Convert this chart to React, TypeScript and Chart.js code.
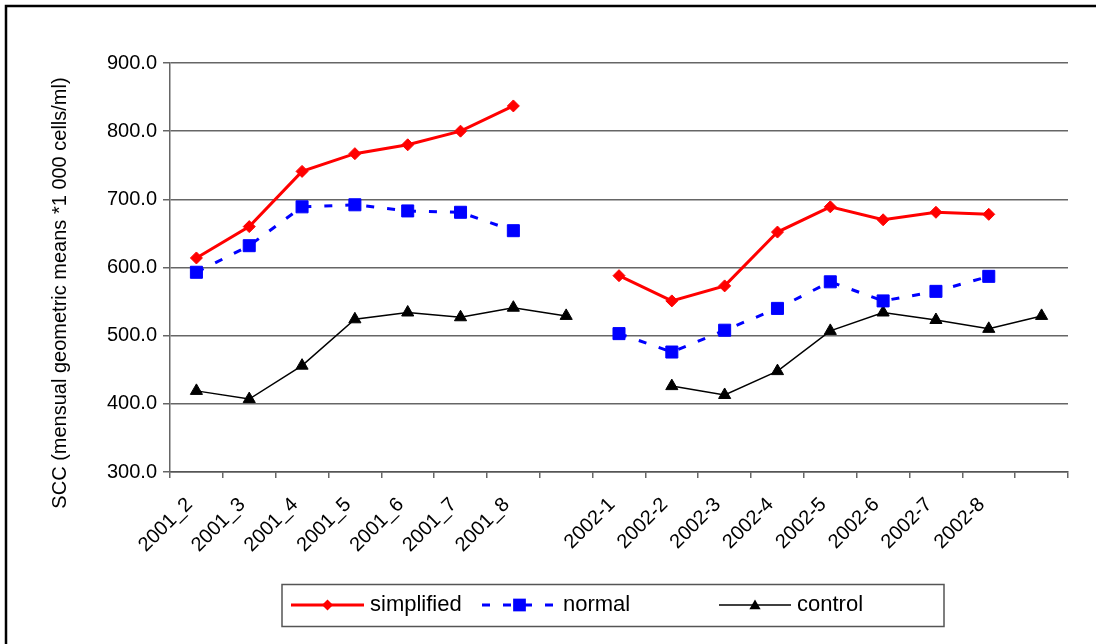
import React, { useEffect, useRef } from 'react';
import { Chart, registerables } from 'chart.js';

Chart.register(...registerables);

const categories = [
  '2001_2', '2001_3', '2001_4', '2001_5', '2001_6', '2001_7', '2001_8', '',
  '2002-1', '2002-2', '2002-3', '2002-4', '2002-5', '2002-6', '2002-7', '2002-8', '',
];
const simplified = [614, 660, 741, 767, 780, 800, 837, null, 588, 551, 573, 652, 689, 670, 681, 678, null];
const normal = [593, 632, 689, 692, 683, 681, 654, null, 503, 476, 508, 540, 579, 551, 565, 587, null];
const control = [419, 407, 456, 524, 534, 527, 541, 529, null, 426, 413, 448, 507, 534, 523, 510, 529];
const seriesNames = ['simplified', 'normal', 'control'];
const yMin = 300;
const yMax = 900;
const yStep = 100;
const yAxisTitle = 'SCC (mensual geometric means *1 000 cells/ml)';

const FONT = '"Liberation Sans", Arial, Helvetica, sans-serif';

function drawMarker(ctx: CanvasRenderingContext2D, style: string, x: number, y: number, r: number, color: string) {
  ctx.save();
  ctx.setLineDash([]);
  ctx.fillStyle = color;
  ctx.beginPath();
  if (style === 'rectRot') {
    ctx.moveTo(x - r, y);
    ctx.lineTo(x, y - r);
    ctx.lineTo(x + r, y);
    ctx.lineTo(x, y + r);
  } else if (style === 'rect') {
    const s = r * Math.SQRT1_2;
    ctx.rect(x - s, y - s, 2 * s, 2 * s);
  } else {
    const a = (2 * Math.PI) / 3;
    ctx.moveTo(x, y - r);
    ctx.lineTo(x + Math.sin(a) * r, y - Math.cos(a) * r);
    ctx.lineTo(x + Math.sin(2 * a) * r, y - Math.cos(2 * a) * r);
  }
  ctx.closePath();
  ctx.fill();
  ctx.restore();
}

const decorPlugin = {
  id: 'decor',
  afterDraw(chart: any) {
    const ctx: CanvasRenderingContext2D = chart.ctx;
    ctx.save();
    // outer frame
    ctx.strokeStyle = '#000';
    ctx.lineWidth = 2.5;
    ctx.strokeRect(6, 6, 1300, 900);

    // y-axis title
    ctx.save();
    ctx.translate(60, 293);
    ctx.rotate(-Math.PI / 2);
    ctx.font = `20px ${FONT}`;
    ctx.fillStyle = '#000';
    ctx.textAlign = 'center';
    ctx.textBaseline = 'middle';
    ctx.fillText(yAxisTitle, 0, 0);
    ctx.restore();

    // legend box
    ctx.strokeStyle = '#555';
    ctx.lineWidth = 1.5;
    ctx.strokeRect(282, 584.5, 662, 42);
    const itemX = [291, 482, 719];
    const sampleW = [73, 75, 72];
    const ly = 605;
    chart.data.datasets.forEach((ds: any, i: number) => {
      const x0 = itemX[i];
      const x1 = x0 + sampleW[i];
      ctx.save();
      ctx.strokeStyle = ds.borderColor;
      ctx.lineWidth = ds.borderWidth;
      ctx.setLineDash(ds.borderDash || []);
      ctx.beginPath();
      ctx.moveTo(x0, ly);
      ctx.lineTo(x1, ly);
      ctx.stroke();
      ctx.restore();
      const mr = ds.pointStyle === 'rect' ? 9 : ds.pointStyle === 'triangle' ? 6.5 : 5.5;
      drawMarker(ctx, ds.pointStyle, (x0 + x1) / 2, ds.pointStyle === 'triangle' ? ly + 1 : ly, mr, ds.pointBackgroundColor);
      ctx.font = `22px ${FONT}`;
      ctx.fillStyle = '#000';
      ctx.textAlign = 'left';
      ctx.textBaseline = 'middle';
      ctx.fillText(ds.label, x1 + 6, ly);
    });
    ctx.restore();
  },
};

export default function App() {
  const ref = useRef<HTMLCanvasElement | null>(null);
  useEffect(() => {
    if (!ref.current) return;
    const chart = new Chart(ref.current, {
      type: 'line',
      data: {
        labels: categories,
        datasets: [
          {
            label: seriesNames[0],
            data: simplified,
            borderColor: '#ff0000',
            backgroundColor: '#ff0000',
            pointBackgroundColor: '#ff0000',
            pointBorderColor: '#ff0000',
            borderWidth: 3,
            pointStyle: 'rectRot',
            pointRadius: 6,
            pointBorderWidth: 1,
            tension: 0,
            spanGaps: false,
          },
          {
            label: seriesNames[1],
            data: normal,
            borderColor: '#0000ff',
            backgroundColor: '#0000ff',
            pointBackgroundColor: '#0000ff',
            pointBorderColor: '#0000ff',
            borderWidth: 3,
            borderDash: [8, 13],
            pointStyle: 'rect',
            pointRadius: 8.5,
            pointBorderWidth: 1,
            tension: 0,
            spanGaps: false,
          },
          {
            label: seriesNames[2],
            data: control,
            borderColor: '#000000',
            backgroundColor: '#000000',
            pointBackgroundColor: '#000000',
            pointBorderColor: '#000000',
            borderWidth: 1.5,
            pointStyle: 'triangle',
            pointRadius: 7,
            pointBorderWidth: 1,
            tension: 0,
            spanGaps: false,
          },
        ],
      },
      options: {
        responsive: false,
        animation: false,
        devicePixelRatio: 1,
        layout: { padding: { left: 0, right: 28, top: 63, bottom: 0 } },
        plugins: {
          legend: { display: false },
          title: { display: false },
          tooltip: { enabled: false },
        },
        scales: {
          x: {
            type: 'category',
            offset: true,
            grid: {
              offset: true,
              drawOnChartArea: false,
              drawTicks: true,
              tickLength: 6,
              color: '#666',
              lineWidth: 1.5,
            },
            border: { display: true, color: '#555', width: 1.5 },
            ticks: {
              autoSkip: false,
              minRotation: 45,
              maxRotation: 45,
              color: '#000',
              padding: 15,
              labelOffset: -7,
              font: { family: FONT, size: 20 },
            },
            afterFit(scale: any) {
              scale.height = 172;
            },
          },
          y: {
            min: yMin,
            max: yMax,
            grid: {
              color: '#666',
              lineWidth: 1.5,
              drawTicks: true,
              tickLength: 7,
            },
            border: { display: true, color: '#666', width: 1.5 },
            ticks: {
              stepSize: yStep,
              color: '#000',
              padding: 6,
              font: { family: FONT, size: 20 },
              callback: (v: any) => Number(v).toFixed(1),
            },
            afterFit(scale: any) {
              scale.width = 170;
            },
          },
        },
      },
      plugins: [decorPlugin],
    });
    return () => chart.destroy();
  }, []);
  return (
    <div style={{ position: 'fixed', left: 0, top: 0, width: 1096, height: 644, background: '#fff' }}>
      <canvas ref={ref} width={1096} height={644} />
    </div>
  );
}
